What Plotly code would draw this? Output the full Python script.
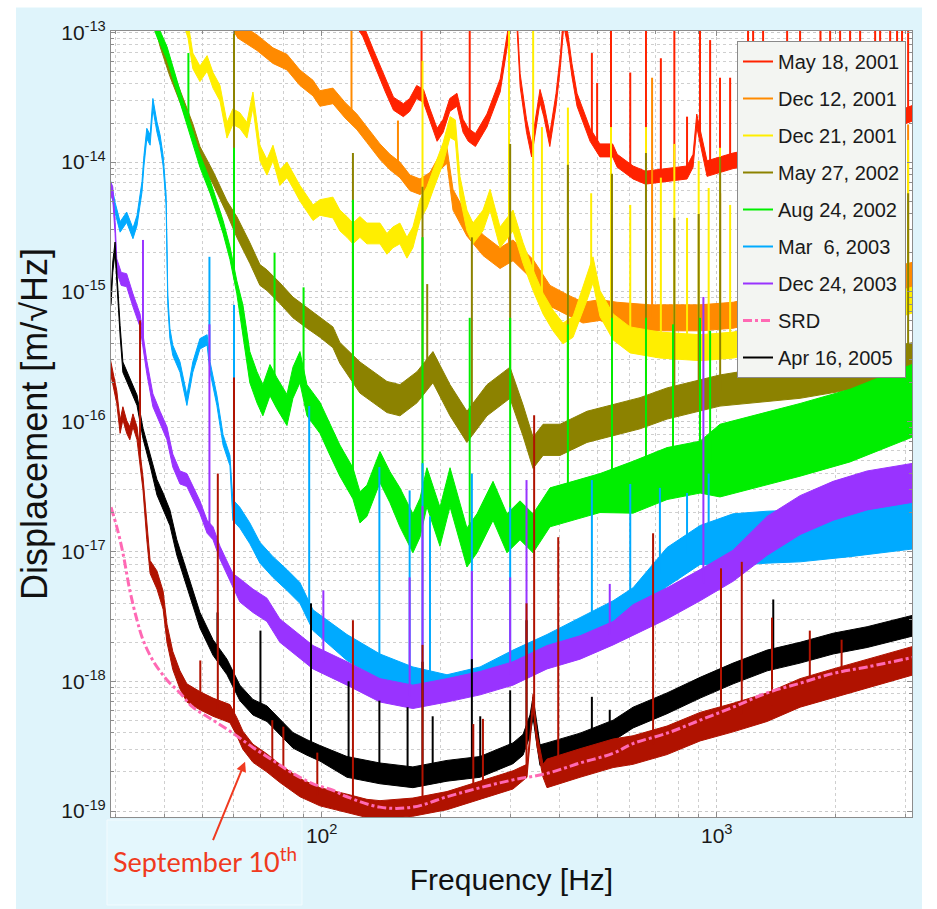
import numpy as np
import plotly.graph_objects as go

# Frequencies in Hz. Levels are log10 of displacement [m/sqrt(Hz)].
# *_mid = centre of the noise band, *_spread = half thickness of the band (decades)
# *_spike_f / *_spike_top = narrow lines (frequency, log10 of top)

may2001_f = [122, 127, 135, 145, 152, 161, 167, 174, 181, 188,
             196, 203, 211, 220, 228, 235, 245, 262, 283, 295,
             300, 312, 318, 330, 340, 357, 365, 378, 392, 402,
             410, 420, 430, 443, 478, 506, 545, 560, 614, 660,
             749, 841, 871, 890, 945, 1019, 1100, 1290, 1630, 2180,
             2590, 3150]
may2001_mid = [-12.9, -12.98, -13.18, -13.41, -13.55, -13.60, -13.56, -13.46, -13.49, -13.64,
               -13.79, -13.72, -13.56, -13.52, -13.72, -13.79, -13.83, -13.68, -13.41, -13.06,
               -12.9, -12.9, -13.37, -13.72, -13.91, -13.49, -13.60, -13.83, -13.52, -13.22,
               -12.9, -13.06, -13.29, -13.52, -13.79, -13.91, -13.91, -13.99, -14.08, -14.12,
               -14.10, -14.08, -13.99, -13.68, -14.05, -14.02, -13.99, -13.95, -13.89, -13.79,
               -13.72, -13.62]
may2001_spread = [0.05, 0.05, 0.05, 0.05, 0.05, 0.05, 0.05, 0.05, 0.05, 0.05,
                  0.05, 0.05, 0.05, 0.05, 0.05, 0.05, 0.05, 0.05, 0.05, 0.05,
                  0.05, 0.05, 0.05, 0.05, 0.05, 0.05, 0.05, 0.05, 0.05, 0.05,
                  0.05, 0.05, 0.05, 0.05, 0.05, 0.05, 0.05, 0.05, 0.05, 0.05,
                  0.05, 0.05, 0.05, 0.05, 0.06, 0.06, 0.06, 0.06, 0.06, 0.06,
                  0.06, 0.06]
may2001_spike_f = [179, 237, 483, 498, 540, 604, 662, 722, 781, 841,
                   907, 962, 1019, 1081, 1200, 1236, 1310, 1507, 1625, 1830,
                   1936, 2052, 2175, 2306, 2517, 2591, 2747, 2860, 2944, 3050]
may2001_spike_top = [-12.9, -12.9, -13.16, -13.39, -12.9, -13.31, -12.9, -13.20, -12.9, -13.65,
                     -12.9, -13.06, -13.35, -13.35, -12.9, -12.9, -12.9, -12.9, -12.9, -12.9,
                     -12.9, -12.9, -12.9, -12.9, -12.9, -12.9, -12.9, -12.9, -12.9, -12.9]

dec12_f = [59, 61.4, 68.6, 75.3, 81.7, 88.1, 95.1, 99.0, 106.8, 114.6,
           122.8, 130.2, 140.5, 148.9, 157.8, 167.3, 177.4, 188.0, 199.3, 207.6,
           215, 233.2, 256.1, 282.8, 305, 342.8, 378.4, 417.8, 458.6, 506.5,
           559.4, 677.8, 907.5, 1100, 1625, 2450, 3150]
dec12_mid = [-12.9, -12.985, -13.08, -13.18, -13.23, -13.35, -13.43, -13.51, -13.49, -13.60,
             -13.69, -13.79, -13.92, -14.00, -14.06, -14.16, -14.19, -14.14, -14.00, -13.95,
             -14.29, -14.49, -14.64, -14.74, -14.68, -14.83, -15.03, -15.10, -15.16, -15.14,
             -15.18, -15.20, -15.20, -15.18, -15.06, -14.95, -14.87]
dec12_spread = [0.06, 0.06, 0.06, 0.06, 0.06, 0.06, 0.06, 0.06, 0.06, 0.06,
                0.06, 0.06, 0.06, 0.06, 0.06, 0.06, 0.06, 0.06, 0.06, 0.06,
                0.08, 0.08, 0.08, 0.08, 0.08, 0.08, 0.08, 0.08, 0.08, 0.08,
                0.10, 0.10, 0.10, 0.10, 0.10, 0.10, 0.10]
dec12_spike_f = [119, 156, 298, 686, 1020, 3050]
dec12_spike_top = [-12.9, -13.68, -14.20, -13.35, -14.24, -13.71]

dec21_f = [45, 45.9, 47.2, 49.2, 51.3, 53.1, 55.3, 57.6, 59.6, 62.1,
           64.7, 67.0, 69.8, 72.7, 75.3, 78.4, 81.7, 84.6, 88.1, 91.8,
           95.1, 99.0, 106.8, 111.2, 115.9, 120.0, 125, 130.2, 140.5, 146.3,
           151.5, 157.8, 164.4, 170.2, 177.4, 184.7, 191.3, 203, 211.3, 218,
           223.9, 233.2, 241.5, 256.1, 266.8, 282.8, 305, 323.3, 342.8, 363.4,
           385.1, 408.2, 432.7, 469.4, 486.1, 506.5, 546.6, 603.3, 718.7, 907.5,
           1100, 1625, 2450, 3150]
dec21_mid = [-12.9, -12.985, -13.22, -13.32, -13.24, -13.37, -13.47, -13.755, -13.65, -13.68,
             -13.755, -13.52, -13.93, -14.04, -13.93, -14.12, -14.06, -14.14, -14.24, -14.32,
             -14.39, -14.35, -14.35, -14.45, -14.50, -14.55, -14.50, -14.55, -14.55, -14.63,
             -14.58, -14.55, -14.66, -14.58, -14.37, -14.27, -14.14, -13.93, -13.73, -13.755,
             -14.19, -14.45, -14.55, -14.45, -14.29, -14.58, -14.45, -14.70, -14.91, -15.09,
             -15.22, -15.32, -15.27, -14.965, -14.83, -15.09, -15.27, -15.37, -15.41, -15.43,
             -15.41, -15.30, -15.16, -15.06]
dec21_spread = [0.06, 0.06, 0.06, 0.06, 0.06, 0.06, 0.06, 0.06, 0.06, 0.06,
                0.06, 0.06, 0.06, 0.06, 0.06, 0.06, 0.06, 0.06, 0.06, 0.06,
                0.06, 0.06, 0.08, 0.08, 0.08, 0.08, 0.08, 0.08, 0.08, 0.08,
                0.08, 0.08, 0.08, 0.08, 0.08, 0.08, 0.08, 0.08, 0.08, 0.08,
                0.08, 0.08, 0.08, 0.08, 0.08, 0.08, 0.08, 0.08, 0.08, 0.08,
                0.08, 0.08, 0.08, 0.10, 0.10, 0.10, 0.10, 0.10, 0.10, 0.10,
                0.10, 0.10, 0.10, 0.10]
dec21_spike_f = [180, 298, 343, 361, 420, 481, 540, 604, 662, 722,
                 781, 841, 900, 954, 1019, 1081, 3050]
dec21_spike_top = [-13.22, -12.9, -12.9, -13.73, -13.58, -14.24, -13.73, -14.33, -13.73, -14.12,
                   -13.86, -14.43, -13.99, -14.20, -13.89, -14.33, -13.83]

may2002_f = [37.8, 39.0, 41.3, 44.6, 47.2, 49.2, 53.1, 57.6, 61.0, 65.8,
             69.8, 72.7, 78.4, 84.6, 91.8, 99.0, 106.8, 111.2, 125, 146.3,
             157.8, 174.3, 191.3, 211.3, 233.2, 262.1, 299.7, 323.3, 342.8, 363.4,
             401.2, 469.4, 546.6, 639.5, 748.5, 871, 1019, 1625, 2306, 3150]
may2002_mid = [-12.9, -13.06, -13.29, -13.55, -13.755, -13.93, -14.12, -14.35, -14.50, -14.70,
               -14.87, -14.91, -15.01, -15.12, -15.20, -15.27, -15.35, -15.47, -15.66, -15.81,
               -15.835, -15.735, -15.58, -15.835, -16.04, -15.835, -15.70, -15.99, -16.24, -16.14,
               -16.14, -16.04, -15.99, -15.935, -15.86, -15.81, -15.76, -15.68, -15.60, -15.53]
may2002_spread = [0.05, 0.05, 0.05, 0.05, 0.05, 0.05, 0.05, 0.05, 0.08, 0.08,
                  0.08, 0.08, 0.08, 0.08, 0.08, 0.08, 0.08, 0.08, 0.12, 0.12,
                  0.12, 0.12, 0.12, 0.12, 0.12, 0.12, 0.12, 0.12, 0.12, 0.12,
                  0.12, 0.12, 0.12, 0.12, 0.12, 0.12, 0.12, 0.14, 0.14, 0.14]
may2002_spike_f = [60, 120, 180, 185, 240, 300, 420, 543, 662, 781, 900, 1020, 3050]
may2002_spike_top = [-12.9, -13.93, -14.19, -14.94, -14.58, -13.86, -14.02, -14.09, -13.93, -14.43,
                     -14.40, -13.96, -14.24]

aug2002_f = [37.4, 38.3, 40.6, 43.0, 44.6, 47.2, 49.2, 52.2, 54.3, 56.3,
             58.6, 61.0, 63.2, 65.8, 68.6, 71.0, 74.0, 77.0, 81.7, 84.6,
             88.1, 91.8, 99.0, 105, 111.2, 120, 125, 130.2, 140.5, 148.9,
             157.8, 170.2, 177.4, 184.7, 199.3, 211.3, 233.2, 247.3, 271.5, 294.5,
             317.7, 342.8, 378.4, 432.7, 506.5, 614, 748.5, 907.5, 1019, 1625,
             2175, 3150]
aug2002_mid = [-12.9, -12.985, -13.16, -13.42, -13.58, -13.81, -13.99, -14.19, -14.35, -14.50,
               -14.70, -14.965, -15.22, -15.58, -15.735, -15.835, -15.68, -15.78, -15.91, -15.70,
               -15.58, -15.835, -15.97, -16.14, -16.30, -16.475, -16.66, -16.61, -16.35, -16.505,
               -16.66, -16.86, -16.74, -16.505, -16.81, -16.505, -16.97, -16.86, -16.61, -16.86,
               -16.76, -16.86, -16.66, -16.61, -16.55, -16.505, -16.40, -16.35, -16.30, -16.14,
               -16.03, -15.835]
aug2002_spread = [0.05, 0.05, 0.05, 0.05, 0.05, 0.05, 0.05, 0.05, 0.05, 0.05,
                  0.05, 0.05, 0.12, 0.12, 0.12, 0.12, 0.12, 0.12, 0.12, 0.12,
                  0.12, 0.12, 0.12, 0.12, 0.12, 0.12, 0.12, 0.12, 0.12, 0.12,
                  0.15, 0.15, 0.15, 0.15, 0.15, 0.15, 0.15, 0.15, 0.15, 0.15,
                  0.15, 0.15, 0.15, 0.15, 0.15, 0.20, 0.20, 0.20, 0.28, 0.28,
                  0.28, 0.28]
aug2002_spike_f = [46, 60, 76, 90, 120, 180, 237, 300, 420, 543, 662, 775, 907, 962]
aug2002_spike_top = [-13.16, -13.89, -14.70, -14.965, -14.29, -14.58, -15.2, -15.2, -15.25, -15.2,
                     -15.2, -15.25, -15.2, -15.3]

mar2003_f = [29.3, 30.0, 30.9, 32.1, 33.3, 34.1, 35.1, 35.5, 36.1, 36.8,
             37.4, 38.3, 39.0, 39.7, 40.4, 40.8, 41.3, 42.0, 43.8, 45.6,
             47.2, 49.2, 51.3, 52.2, 54.3, 56.3, 58.6, 59.6, 62.1, 65.8,
             69.8, 75.3, 81.7, 88.1, 95.1, 115.9, 140.5, 170.2, 207.6, 251.7,
             305, 371.9, 450.8, 546.6, 614, 748.5, 907.5, 1100, 1341, 1625,
             2175, 3150]
mar2003_mid = [-14.19, -14.35, -14.50, -14.425, -14.55, -14.45, -14.19, -13.99, -13.78, -13.83,
               -13.55, -13.73, -13.83, -13.99, -14.29, -15.065, -15.32, -15.45, -15.58, -15.835,
               -15.58, -15.40, -15.37, -15.58, -15.835, -16.14, -16.30, -16.68, -16.74, -16.86,
               -17.01, -17.12, -17.22, -17.32, -17.53, -17.74, -17.89, -17.99, -18.05, -17.99,
               -17.86, -17.74, -17.61, -17.48, -17.38, -17.12, -16.95, -16.91, -16.89, -16.88,
               -16.84, -16.78]
mar2003_spread = [0.04, 0.04, 0.04, 0.04, 0.04, 0.04, 0.04, 0.04, 0.04, 0.04,
                  0.04, 0.04, 0.04, 0.04, 0.04, 0.04, 0.04, 0.04, 0.04, 0.04,
                  0.04, 0.04, 0.04, 0.04, 0.04, 0.04, 0.04, 0.08, 0.08, 0.08,
                  0.08, 0.08, 0.08, 0.08, 0.08, 0.10, 0.10, 0.10, 0.10, 0.10,
                  0.10, 0.10, 0.10, 0.10, 0.10, 0.15, 0.15, 0.20, 0.20, 0.20,
                  0.20, 0.20]
mar2003_spike_f = [52, 60, 93, 140, 167, 180, 188, 240, 300, 483, 604, 718, 841, 954]
mar2003_spike_top = [-14.73, -15.1, -15.88, -16.35, -16.53, -16.32, -16.73, -16.40, -16.66, -16.45,
                     -16.48, -16.51, -16.55, -16.40]

dec2003_f = [29.1, 29.6, 30.0, 30.3, 31.1, 32.1, 33.3, 34.7, 36.1, 37.4,
             39.0, 40.6, 42.0, 43.8, 45.6, 47.2, 49.2, 51.3, 53.1, 55.3,
             57.6, 59.6, 62.1, 67.0, 72.7, 78.4, 95.1, 115.9, 140.5, 170.2,
             207.6, 251.7, 305, 371.9, 450.8, 546.6, 614, 748.5, 907.5, 1100,
             1341, 1625, 1970, 2402, 3150]
dec2003_mid = [-14.19, -14.24, -14.50, -14.795, -14.90, -14.91, -15.065, -15.22, -15.58, -15.835,
               -15.97, -16.09, -16.30, -16.43, -16.45, -16.55, -16.66, -16.81, -16.86, -17.01,
               -17.12, -17.22, -17.30, -17.38, -17.45, -17.61, -17.815, -17.94, -18.07, -18.12,
               -18.07, -18.015, -17.94, -17.815, -17.74, -17.63, -17.53, -17.40, -17.26, -17.11,
               -16.88, -16.72, -16.61, -16.53, -16.47]
dec2003_spread = [0.05, 0.05, 0.05, 0.05, 0.05, 0.05, 0.05, 0.05, 0.05, 0.05,
                  0.05, 0.05, 0.05, 0.05, 0.05, 0.05, 0.05, 0.05, 0.05, 0.05,
                  0.05, 0.05, 0.09, 0.09, 0.09, 0.09, 0.09, 0.09, 0.09, 0.09,
                  0.09, 0.09, 0.09, 0.09, 0.09, 0.09, 0.12, 0.12, 0.12, 0.12,
                  0.15, 0.15, 0.15, 0.15, 0.15]
dec2003_spike_f = [35.3, 52, 101, 167, 180, 240, 300, 330, 536, 925]
dec2003_spike_top = [-14.6, -15.25, -17.3, -17.2, -16.65, -17.15, -17.2, -16.45, -17.25, -15.04]

apr2005_f = [29.3, 29.6, 30.0, 30.3, 30.9, 31.4, 32.7, 34.1, 35.3, 36.8,
             38.3, 39.7, 41.3, 43.0, 44.6, 46.4, 49.2, 53.1, 57.6, 62.1,
             67.0, 72.7, 78.4, 84.6, 91.8, 99.0, 115.9, 140.5, 170.2, 207.6,
             251.7, 305, 323.3, 336.8, 342.8, 350.9, 357, 371.9, 450.8, 546.6,
             614, 748.5, 907.5, 1100, 1341, 1625, 1970, 2402, 3150]
apr2005_mid = [-15.065, -14.81, -14.656, -14.91, -15.30, -15.58, -15.70, -15.835, -16.09, -16.30,
               -16.505, -16.61, -16.74, -16.97, -17.12, -17.28, -17.53, -17.74, -17.89, -18.09,
               -18.20, -18.25, -18.35, -18.455, -18.51, -18.555, -18.66, -18.71, -18.74, -18.69,
               -18.66, -18.555, -18.49, -18.34, -18.20, -18.42, -18.57, -18.555, -18.48, -18.38,
               -18.28, -18.17, -18.05, -17.94, -17.84, -17.78, -17.71, -17.66, -17.57]
apr2005_spread = [0.04, 0.04, 0.04, 0.04, 0.04, 0.04, 0.04, 0.04, 0.04, 0.04,
                  0.06, 0.06, 0.06, 0.06, 0.06, 0.06, 0.06, 0.06, 0.06, 0.06,
                  0.06, 0.06, 0.06, 0.06, 0.06, 0.06, 0.08, 0.08, 0.08, 0.08,
                  0.08, 0.08, 0.08, 0.08, 0.08, 0.08, 0.08, 0.08, 0.08, 0.08,
                  0.08, 0.08, 0.08, 0.08, 0.08, 0.08, 0.08, 0.08, 0.08]
apr2005_spike_f = [54.5, 60, 70, 94, 117, 140, 165, 180, 191, 240,
                   252, 300, 330, 483, 536, 1390]
apr2005_spike_top = [-17.47, -17.45, -17.61, -17.4, -18.0, -18.15, -18.2, -17.85, -18.27, -17.83,
                     -18.27, -18.07, -17.53, -18.12, -18.22, -17.37]

sep10_f = [29.1, 29.6, 30.3, 30.9, 31.4, 32.1, 32.7, 33.3, 34.1, 35.3,
           36.1, 36.8, 38.3, 39.7, 40.6, 42.0, 43.8, 45.6, 49.2, 53.1,
           58.6, 61.0, 63.2, 67.0, 72.7, 78.4, 88.1, 99.0, 115.9, 130.2,
           140.5, 170.2, 207.6, 251.7, 305, 330.9, 336.8, 342.8, 350.9, 363.4,
           371.9, 450.8, 546.6, 614, 748.5, 907.5, 1100, 1341, 1625, 1970,
           2402, 3150]
sep10_mid = [-15.55, -15.66, -15.81, -16.04, -15.935, -16.04, -16.09, -15.99, -16.09, -16.475,
             -16.86, -17.12, -17.22, -17.376, -17.63, -17.84, -17.99, -18.09, -18.15, -18.20,
             -18.25, -18.35, -18.455, -18.555, -18.63, -18.71, -18.82, -18.89, -18.94, -18.98,
             -18.99, -18.97, -18.92, -18.84, -18.76, -18.69, -18.455, -18.15, -18.455, -18.69,
             -18.71, -18.63, -18.555, -18.53, -18.455, -18.35, -18.28, -18.20, -18.09, -18.015,
             -17.94, -17.84]
sep10_spread = [0.05, 0.05, 0.05, 0.05, 0.05, 0.05, 0.05, 0.05, 0.05, 0.05,
                0.05, 0.05, 0.07, 0.07, 0.07, 0.07, 0.07, 0.07, 0.07, 0.07,
                0.07, 0.07, 0.07, 0.07, 0.07, 0.07, 0.07, 0.07, 0.07, 0.07,
                0.07, 0.07, 0.07, 0.07, 0.07, 0.05, 0.05, 0.05, 0.05, 0.05,
                0.11, 0.11, 0.11, 0.11, 0.11, 0.11, 0.11, 0.11, 0.11, 0.11,
                0.11, 0.11]
sep10_spike_f = [34.7, 49.3, 54.6, 60, 75, 80, 97.5, 120, 180, 242,
                 256, 330, 345, 397, 690, 1025, 1157, 1380, 1720, 2070]
sep10_spike_top = [-15.22, -17.84, -16.40, -15.66, -18.3, -18.35, -18.55, -17.53, -17.72, -18.33,
                   -18.29, -17.4, -15.95, -16.89, -16.86, -17.13, -17.08, -17.51, -17.61, -17.68]

srd_f = [29.3, 30.3, 31.4, 32.7, 34.1, 35.3, 37.4, 40.6, 43.8, 47.2,
         53.1, 59.6, 67.0, 75.3, 84.6, 95.1, 106.8, 115.9, 140.5, 170.2,
         207.6, 251.7, 305, 371.9, 450.8, 546.6, 614, 748.5, 907.5, 1100,
         1341, 1625, 1970, 2402, 3150]
srd_level = [-16.66, -16.81, -17.01, -17.30, -17.53, -17.68, -17.84, -17.99, -18.09, -18.20,
             -18.30, -18.40, -18.51, -18.61, -18.71, -18.79, -18.84, -18.89, -18.97, -18.97,
             -18.89, -18.82, -18.76, -18.71, -18.63, -18.555, -18.48, -18.40, -18.30, -18.20,
             -18.09, -18.015, -17.94, -17.89, -17.815]

x_major_ticks = [100, 1000]
x_major_labels = ["10<sup>2</sup>", "10<sup>3</sup>"]
x_minor_ticks = [30, 40, 50, 60, 70, 80, 90, 200, 300, 400, 500, 600, 700, 800, 900, 2000, 3000]
y_decades = [-19, -18, -17, -16, -15, -14, -13]
y_decade_labels = ["10<sup>-19</sup>", "10<sup>-18</sup>", "10<sup>-17</sup>", "10<sup>-16</sup>",
                   "10<sup>-15</sup>", "10<sup>-14</sup>", "10<sup>-13</sup>"]
y_minor_mult = [2, 3, 4, 5, 6, 7, 8, 9]

curves = [
    ("May 18, 2001", "#ff2200", may2001_f, may2001_mid, may2001_spread, may2001_spike_f, may2001_spike_top, 1),
    ("Dec 12, 2001", "#ff8a00", dec12_f, dec12_mid, dec12_spread, dec12_spike_f, dec12_spike_top, 2),
    ("Dec 21, 2001", "#ffee00", dec21_f, dec21_mid, dec21_spread, dec21_spike_f, dec21_spike_top, 3),
    ("May 27, 2002", "#8c8200", may2002_f, may2002_mid, may2002_spread, may2002_spike_f, may2002_spike_top, 4),
    ("Aug 24, 2002", "#00ee00", aug2002_f, aug2002_mid, aug2002_spread, aug2002_spike_f, aug2002_spike_top, 5),
    ("Mar  6, 2003", "#00aaff", mar2003_f, mar2003_mid, mar2003_spread, mar2003_spike_f, mar2003_spike_top, 6),
    ("Dec 24, 2003", "#9933ff", dec2003_f, dec2003_mid, dec2003_spread, dec2003_spike_f, dec2003_spike_top, 7),
    ("Apr 16, 2005", "#000000", apr2005_f, apr2005_mid, apr2005_spread, apr2005_spike_f, apr2005_spike_top, 9),
    ("September 10", "#b01200", sep10_f, sep10_mid, sep10_spread, sep10_spike_f, sep10_spike_top, None),
]

fig = go.Figure()

for name, color, f, mid, spread, sf, st, rank in curves:
    f = np.asarray(f, float)
    mid = np.asarray(mid, float)
    spread = np.asarray(spread, float)
    hi = 10 ** (mid + spread)
    lo = 10 ** (mid - spread)
    fig.add_trace(go.Scatter(
        x=np.concatenate([f, f[::-1]]), y=np.concatenate([hi, lo[::-1]]),
        mode="lines", fill="toself", fillcolor=color,
        line=dict(color=color, width=1), showlegend=False, hoverinfo="skip"))
    base = np.interp(np.log10(sf), np.log10(f), mid)
    xs, ys = [], []
    for fs, b, t in zip(sf, base, st):
        xs += [fs, fs, None]
        ys += [10 ** b, 10 ** t, None]
    fig.add_trace(go.Scatter(
        x=xs, y=ys, mode="lines", line=dict(color=color, width=2),
        name=name, showlegend=rank is not None, legendgroup=name,
        legendrank=rank if rank is not None else 1000, hoverinfo="skip"))

fig.add_trace(go.Scatter(
    x=srd_f, y=10 ** np.asarray(srd_level), mode="lines", name="SRD",
    line=dict(color="#ff69b4", width=3, dash="dashdot", shape="spline"),
    legendgroup="SRD", legendrank=8, hoverinfo="skip"))

y_major_ticks = [10.0 ** d for d in y_decades]
y_minor_ticks = [k * 10.0 ** d for d in y_decades[:-1] for k in y_minor_mult]

axis_common = dict(
    showline=True, linecolor="#8c8c8c", linewidth=1, mirror="ticks",
    ticks="inside", ticklen=5, tickcolor="#8c8c8c",
    showgrid=True, gridcolor="#c9c9c9", griddash="dot", gridwidth=1,
    zeroline=False, tickfont=dict(size=21, color="#1a1a1a"),
)
minor_common = dict(ticks="inside", ticklen=3, tickcolor="#8c8c8c",
                    showgrid=True, gridcolor="#cfcfcf", griddash="dot", gridwidth=1)

fig.update_xaxes(type="log", range=[np.log10(29.3), np.log10(3120)],
                 tickmode="array", tickvals=x_major_ticks, ticktext=x_major_labels,
                 minor=dict(tickmode="array", tickvals=x_minor_ticks, **minor_common),
                 title=dict(text="Frequency [Hz]", font=dict(size=30, color="#111"), standoff=22),
                 **axis_common)
fig.update_yaxes(type="log", range=[-19.046, -12.99],
                 tickmode="array", tickvals=y_major_ticks, ticktext=y_decade_labels,
                 minor=dict(tickmode="array", tickvals=y_minor_ticks, **minor_common),
                 title=dict(text="Displacement [m/√Hz]", font=dict(size=36, color="#111"), standoff=2),
                 **axis_common)

def px_x(p):
    return (p - 111) / 801.0

def px_y(p):
    return (817 - p) / 786.0

shapes = [
    dict(type="rect", xref="paper", yref="paper", x0=-0.3, x1=px_x(16), y0=-0.3, y1=1.3,
         fillcolor="white", line=dict(width=0), layer="below"),
    dict(type="rect", xref="paper", yref="paper", x0=-0.3, x1=1.3, y0=px_y(7.5), y1=1.3,
         fillcolor="white", line=dict(width=0), layer="below"),
    dict(type="rect", xref="paper", yref="paper", x0=px_x(922), x1=1.3, y0=-0.3, y1=1.3,
         fillcolor="white", line=dict(width=0), layer="below"),
    dict(type="rect", xref="paper", yref="paper", x0=px_x(107), x1=px_x(302), y0=px_y(905), y1=px_y(820),
         fillcolor="#e4f7fd", line=dict(color="#f2fbfe", width=1), layer="below"),
]

fig.add_annotation(
    x=np.log10(64), y=-18.62, xref="x", yref="y",
    text="September 10<sup>th</sup>", showarrow=True,
    arrowhead=2, arrowsize=1, arrowwidth=2, arrowcolor="#f03a20",
    ax=-40, ay=98,
    font=dict(family="Comic Sans MS, Lato, sans-serif", size=27, color="#f03a20"))

fig.update_layout(
    width=937, height=909,
    margin=dict(l=111, r=25, t=31, b=92),
    paper_bgcolor="#dff4fb", plot_bgcolor="white",
    font=dict(family="Liberation Sans, Arial, sans-serif", color="#1a1a1a"),
    shapes=shapes,
    legend=dict(x=px_x(906), xanchor="right", y=px_y(41), yanchor="top",
                bgcolor="#f3f5f2", bordercolor="#8a8a8a", borderwidth=1,
                font=dict(size=20, color="#1a1a1a"), tracegroupgap=8,
                itemwidth=30),
)

fig.write_html("out.html")
